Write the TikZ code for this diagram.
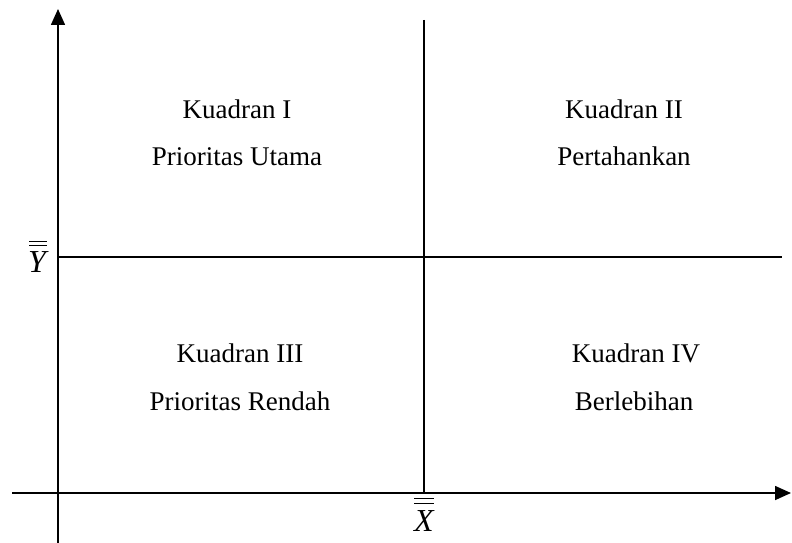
\documentclass[tikz,border=0pt]{standalone}
\usepackage{fontspec}
\setmainfont{Liberation Serif}
\usetikzlibrary{arrows.meta}
\begin{document}
\begin{tikzpicture}[x=1pt,y=-1pt,
  axis/.style={line width=1.6pt,-{Triangle[length=16pt,width=14pt]}},
  divider/.style={line width=1.6pt},
  bar/.style={line width=1.1pt},
  lbl/.style={anchor=base,inner sep=0pt,font=\fontsize{27}{30}\selectfont},
  axlbl/.style={anchor=base,inner sep=0pt,font=\fontsize{32}{34}\selectfont\itshape}]
\useasboundingbox (0,0) rectangle (792,543);
\coordinate (yb) at (58,543);
\coordinate (yt) at (58,9);
\coordinate (xl) at (12,493);
\coordinate (xr) at (791,493);
\coordinate (vt) at (424,20);
\coordinate (vb) at (424,493);
\coordinate (hl) at (58,257);
\coordinate (hr) at (782,257);
\draw[axis] (yb) -- (yt);
\draw[axis] (xl) -- (xr);
\draw[divider] (vt) -- (vb);
\draw[divider] (hl) -- (hr);
\node[lbl] (q1a) at (237,118) {Kuadran I};
\node[lbl] (q1b) at (237,165) {Prioritas Utama};
\node[lbl] (q2a) at (624,118) {Kuadran II};
\node[lbl] (q2b) at (624,165) {Pertahankan};
\node[lbl] (q3a) at (240,362) {Kuadran III};
\node[lbl] (q3b) at (240,410) {Prioritas Rendah};
\node[lbl] (q4a) at (636,362) {Kuadran IV};
\node[lbl] (q4b) at (634,410) {Berlebihan};
\node[axlbl] (ylab) at (37,272) {Y};
\draw[bar] ([xshift=-8pt,yshift=5pt]ylab.north) -- ([xshift=10pt,yshift=5pt]ylab.north);
\draw[bar] ([xshift=-8pt,yshift=9.5pt]ylab.north) -- ([xshift=10pt,yshift=9.5pt]ylab.north);
\node[axlbl] (xlab) at (424,531) {X};
\draw[bar] ([xshift=-10pt,yshift=6pt]xlab.north) -- ([xshift=10pt,yshift=6pt]xlab.north);
\draw[bar] ([xshift=-10pt,yshift=11pt]xlab.north) -- ([xshift=10pt,yshift=11pt]xlab.north);
\end{tikzpicture}
\end{document}
